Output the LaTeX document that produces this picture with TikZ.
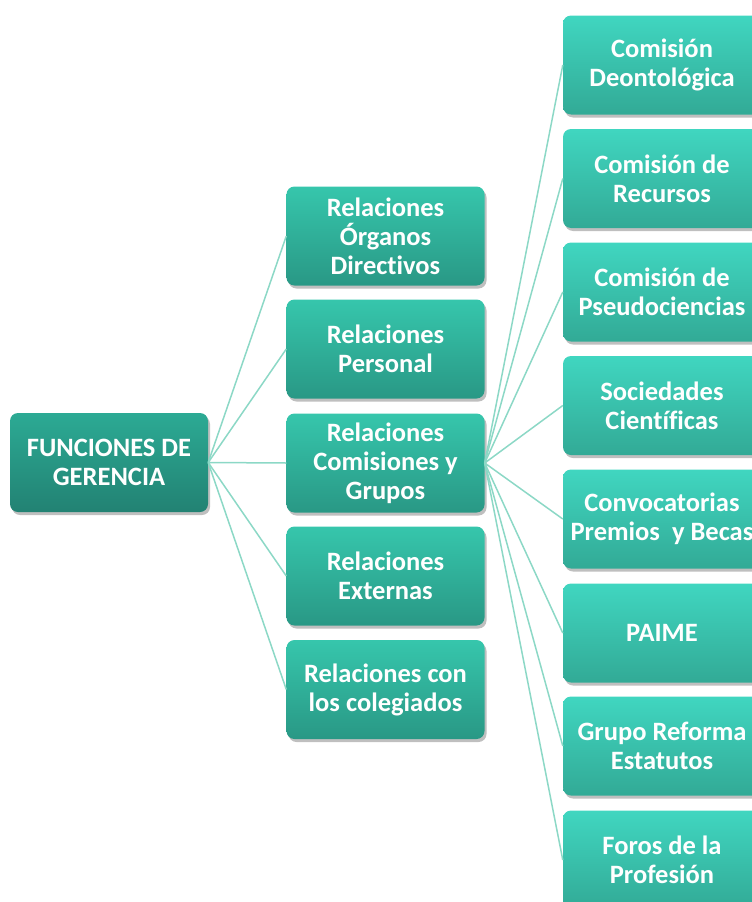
\documentclass[tikz,border=0pt]{standalone}
\usepackage{fontspec}
\setmainfont[Ligatures=NoCommon]{Carlito}
\usetikzlibrary{shadows}
\definecolor{rootT}{RGB}{44,170,148}
\definecolor{rootB}{RGB}{34,130,115}
\definecolor{midT}{RGB}{54,198,172}
\definecolor{midB}{RGB}{41,152,133}
\definecolor{leafT}{RGB}{64,214,192}
\definecolor{leafB}{RGB}{50,170,150}
\definecolor{linkc}{RGB}{140,216,198}
\tikzset{
  box/.style={rounded corners=8pt, minimum width=198pt, minimum height=99pt,
    inner sep=1pt, align=center, text=white,
    font=\bfseries\fontsize{26.5}{29}\selectfont,
    drop shadow={shadow xshift=2pt, shadow yshift=-3pt, opacity=0.25, fill=black}},
  rootbox/.style={box, top color=rootT, bottom color=rootB},
  midbox/.style={box, top color=midT, bottom color=midB},
  leafbox/.style={box, top color=leafT, bottom color=leafB},
  link/.style={draw=linkc, line width=1.5pt}
}
\begin{document}
\begin{tikzpicture}[x=1pt,y=1pt]
\useasboundingbox (0,0) rectangle (752,-902);
\node[rootbox] (root) at (109,-462.5) {FUNCIONES DE\\GERENCIA};
\node[midbox] (m1) at (385.5,-236) {Relaciones\\Órganos\\Directivos};
\node[midbox] (m2) at (385.5,-349) {Relaciones\\Personal};
\node[midbox] (m3) at (385.5,-463) {Relaciones\\Comisiones y\\Grupos};
\node[midbox] (m4) at (385.5,-576) {Relaciones\\Externas};
\node[midbox] (m5) at (385.5,-689.5) {Relaciones con\\los colegiados};
\node[leafbox] (l1) at (662,-65) {Comisión\\Deontológica};
\node[leafbox] (l2) at (662,-178.5) {Comisión de\\Recursos};
\node[leafbox] (l3) at (662,-292) {Comisión de\\Pseudociencias};
\node[leafbox] (l4) at (662,-405.5) {Sociedades\\Científicas};
\node[leafbox] (l5) at (662,-519) {Convocatorias\\Premios\ \ y Becas};
\node[leafbox] (l6) at (662,-633) {PAIME};
\node[leafbox] (l7) at (662,-746) {Grupo Reforma\\Estatutos};
\node[leafbox] (l8) at (662,-860) {Foros de la\\Profesión};
\foreach \m in {m1,m2,m3,m4,m5} \draw[link] (root.east) -- (\m.west);
\foreach \l in {l1,l2,l3,l4,l5,l6,l7,l8} \draw[link] (m3.east) -- (\l.west);
\end{tikzpicture}
\end{document}
